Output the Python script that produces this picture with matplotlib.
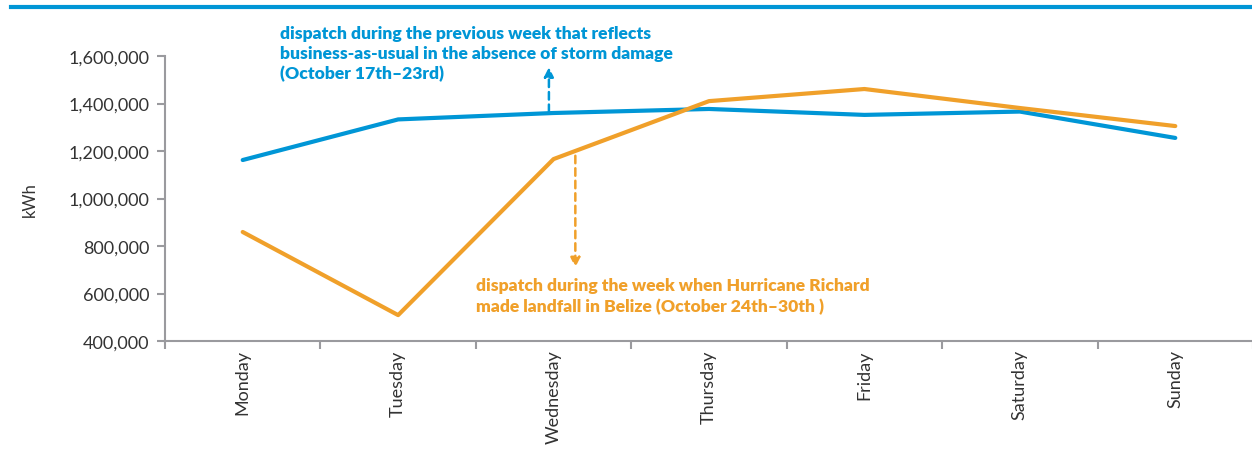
import matplotlib.pyplot as plt
import matplotlib.ticker as tkr
import numpy as np

# data
days = ["Monday", "Tuesday", "Wednesday", "Thursday", "Friday", "Saturday", "Sunday"]
prev_week = [1162000, 1333000, 1360000, 1377000, 1352000, 1366000, 1255000]
storm_week = [859000, 509000, 1166000, 1410000, 1461000, 1381000, 1305000]
y_ticks = [400000, 600000, 800000, 1000000, 1200000, 1400000, 1600000]

BLUE = "#0096d6"
ORANGE = "#f0a02a"
GREY = "#9a9a9e"
TEXT = "#333333"

plt.rcParams['font.family'] = ['Lato', 'DejaVu Sans']

fig = plt.figure(figsize=(12.52, 4.64), dpi=100)
ax = fig.add_axes([165 / 1252, 1 - 342 / 464, (1253 - 165) / 1252, (342 - 57) / 464])

x = np.arange(len(days))
ax.plot(x, prev_week, color=BLUE, lw=3, solid_capstyle='round', zorder=3)
ax.plot(x, storm_week, color=ORANGE, lw=3, solid_capstyle='round', zorder=3)

ax.set_xlim(-0.5, len(days) - 0.5)
ax.set_ylim(400000, 1600000)
ax.set_yticks(y_ticks)
ax.get_yaxis().set_major_formatter(tkr.FuncFormatter(lambda v, p: format(int(v), ',')))
ax.set_xticks(x)
ax.set_xticklabels(days, rotation=90)
ax.set_xticks(np.arange(-0.5, len(days)), minor=True)
ax.tick_params(axis='x', which='major', length=0, pad=6, labelsize=13, labelcolor=TEXT)
ax.tick_params(axis='x', which='minor', length=6, width=1.5, color=GREY)
ax.tick_params(axis='y', length=6, width=1.5, color=GREY, labelsize=13, labelcolor=TEXT, pad=5)

for s in ['top', 'right']:
    ax.spines[s].set_visible(False)
for s in ['left', 'bottom']:
    ax.spines[s].set_color(GREY)
    ax.spines[s].set_linewidth(1.5)

fig.text(30 / 1252, 1 - 200 / 464, "kWh", rotation=90, ha='center', va='center',
         fontsize=12, color=TEXT)

# top rule
fig.add_artist(plt.Line2D([11 / 1252, 1.0], [1 - 8 / 464] * 2, color=BLUE, lw=3))

# annotations
blue_lines = ["dispatch during the previous week that reflects",
              "business-as-usual in the absence of storm damage",
              "(October 17th\u201323rd)"]
for i, t in enumerate(blue_lines):
    fig.text(280 / 1252, 1 - (34 + 20 * i) / 464, t, color=BLUE, fontsize=12.6,
             fontweight='heavy', va='center', ha='left')

orange_lines = ["dispatch during the week when Hurricane Richard",
                "made landfall in Belize (October 24th\u201330th )"]
for i, t in enumerate(orange_lines):
    fig.text(476 / 1252, 1 - (286 + 21 * i) / 464, t, color=ORANGE, fontsize=12.6,
             fontweight='heavy', va='center', ha='left')

ax.annotate("", xy=(1.97, 1553000), xytext=(1.97, 1364000),
            arrowprops=dict(arrowstyle='-|>', color=BLUE, lw=1.8, linestyle=(0, (3, 2)),
                            mutation_scale=14, shrinkA=0, shrinkB=0),
            annotation_clip=False)
ax.annotate("", xy=(2.14, 710000), xytext=(2.14, 1180000),
            arrowprops=dict(arrowstyle='-|>', color=ORANGE, lw=1.8, linestyle=(0, (3, 2)),
                            mutation_scale=14, shrinkA=0, shrinkB=0),
            annotation_clip=False)

plt.savefig("out.png", dpi=100)
plt.close()
